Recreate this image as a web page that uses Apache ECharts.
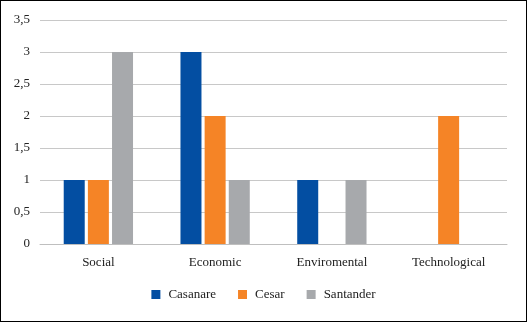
<!DOCTYPE html>
<html>
<head>
<meta charset="utf-8">
<script src="https://cdn.jsdelivr.net/npm/echarts@6/dist/echarts.min.js"></script>
<style>
  html, body { margin: 0; padding: 0; background: #fff; }
  #chart { width: 525px; height: 320px; border: 1px solid #000; }
</style>
</head>
<body>
<div id="chart"></div>
<script>
var categories = ["Social", "Economic", "Enviromental", "Technological"];
var casanare = [1, 3, 1, 0];
var cesar = [1, 2, 0, 2];
var santander = [3, 1, 1, 0];
var seriesNames = ["Casanare", "Cesar", "Santander"];
var colors = ["#034ea2", "#f58426", "#a7a9ac"];

var myChart = echarts.init(document.getElementById("chart"));
var font = "Liberation Serif";

var option = {
    animation: false,
    textStyle: { fontFamily: font },
    grid: { left: 39, right: 19, top: 19, bottom: 77 },
    legend: {
        bottom: 15,
        left: "center",
        itemWidth: 9,
        itemHeight: 9,
        itemGap: 22,
        icon: "rect",
        textStyle: { fontFamily: font, fontSize: 13, color: "#222", padding: [0, 0, 0, 3] },
        data: seriesNames
    },
    xAxis: {
        type: "category",
        data: categories,
        axisLine: { lineStyle: { color: "#bfbfbf", width: 1 } },
        axisTick: { show: false },
        axisLabel: { fontFamily: font, fontSize: 13, color: "#222", margin: 12 }
    },
    yAxis: {
        type: "value",
        min: 0,
        max: 3.5,
        interval: 0.5,
        axisLine: { show: false },
        axisTick: { show: false },
        splitLine: { lineStyle: { color: "#c8c8c8", width: 1 } },
        axisLabel: {
            fontFamily: font, fontSize: 13, color: "#222", margin: 10,
            formatter: function (v) { return String(v).replace(".", ","); }
        }
    },
    series: [
        { name: seriesNames[0], type: "bar", data: casanare, barWidth: 21, barGap: "15%", itemStyle: { color: colors[0] } },
        { name: seriesNames[1], type: "bar", data: cesar, barWidth: 21, barGap: "15%", itemStyle: { color: colors[1] } },
        { name: seriesNames[2], type: "bar", data: santander, barWidth: 21, barGap: "15%", itemStyle: { color: colors[2] } }
    ]
};

myChart.setOption(option);
</script>
</body>
</html>
